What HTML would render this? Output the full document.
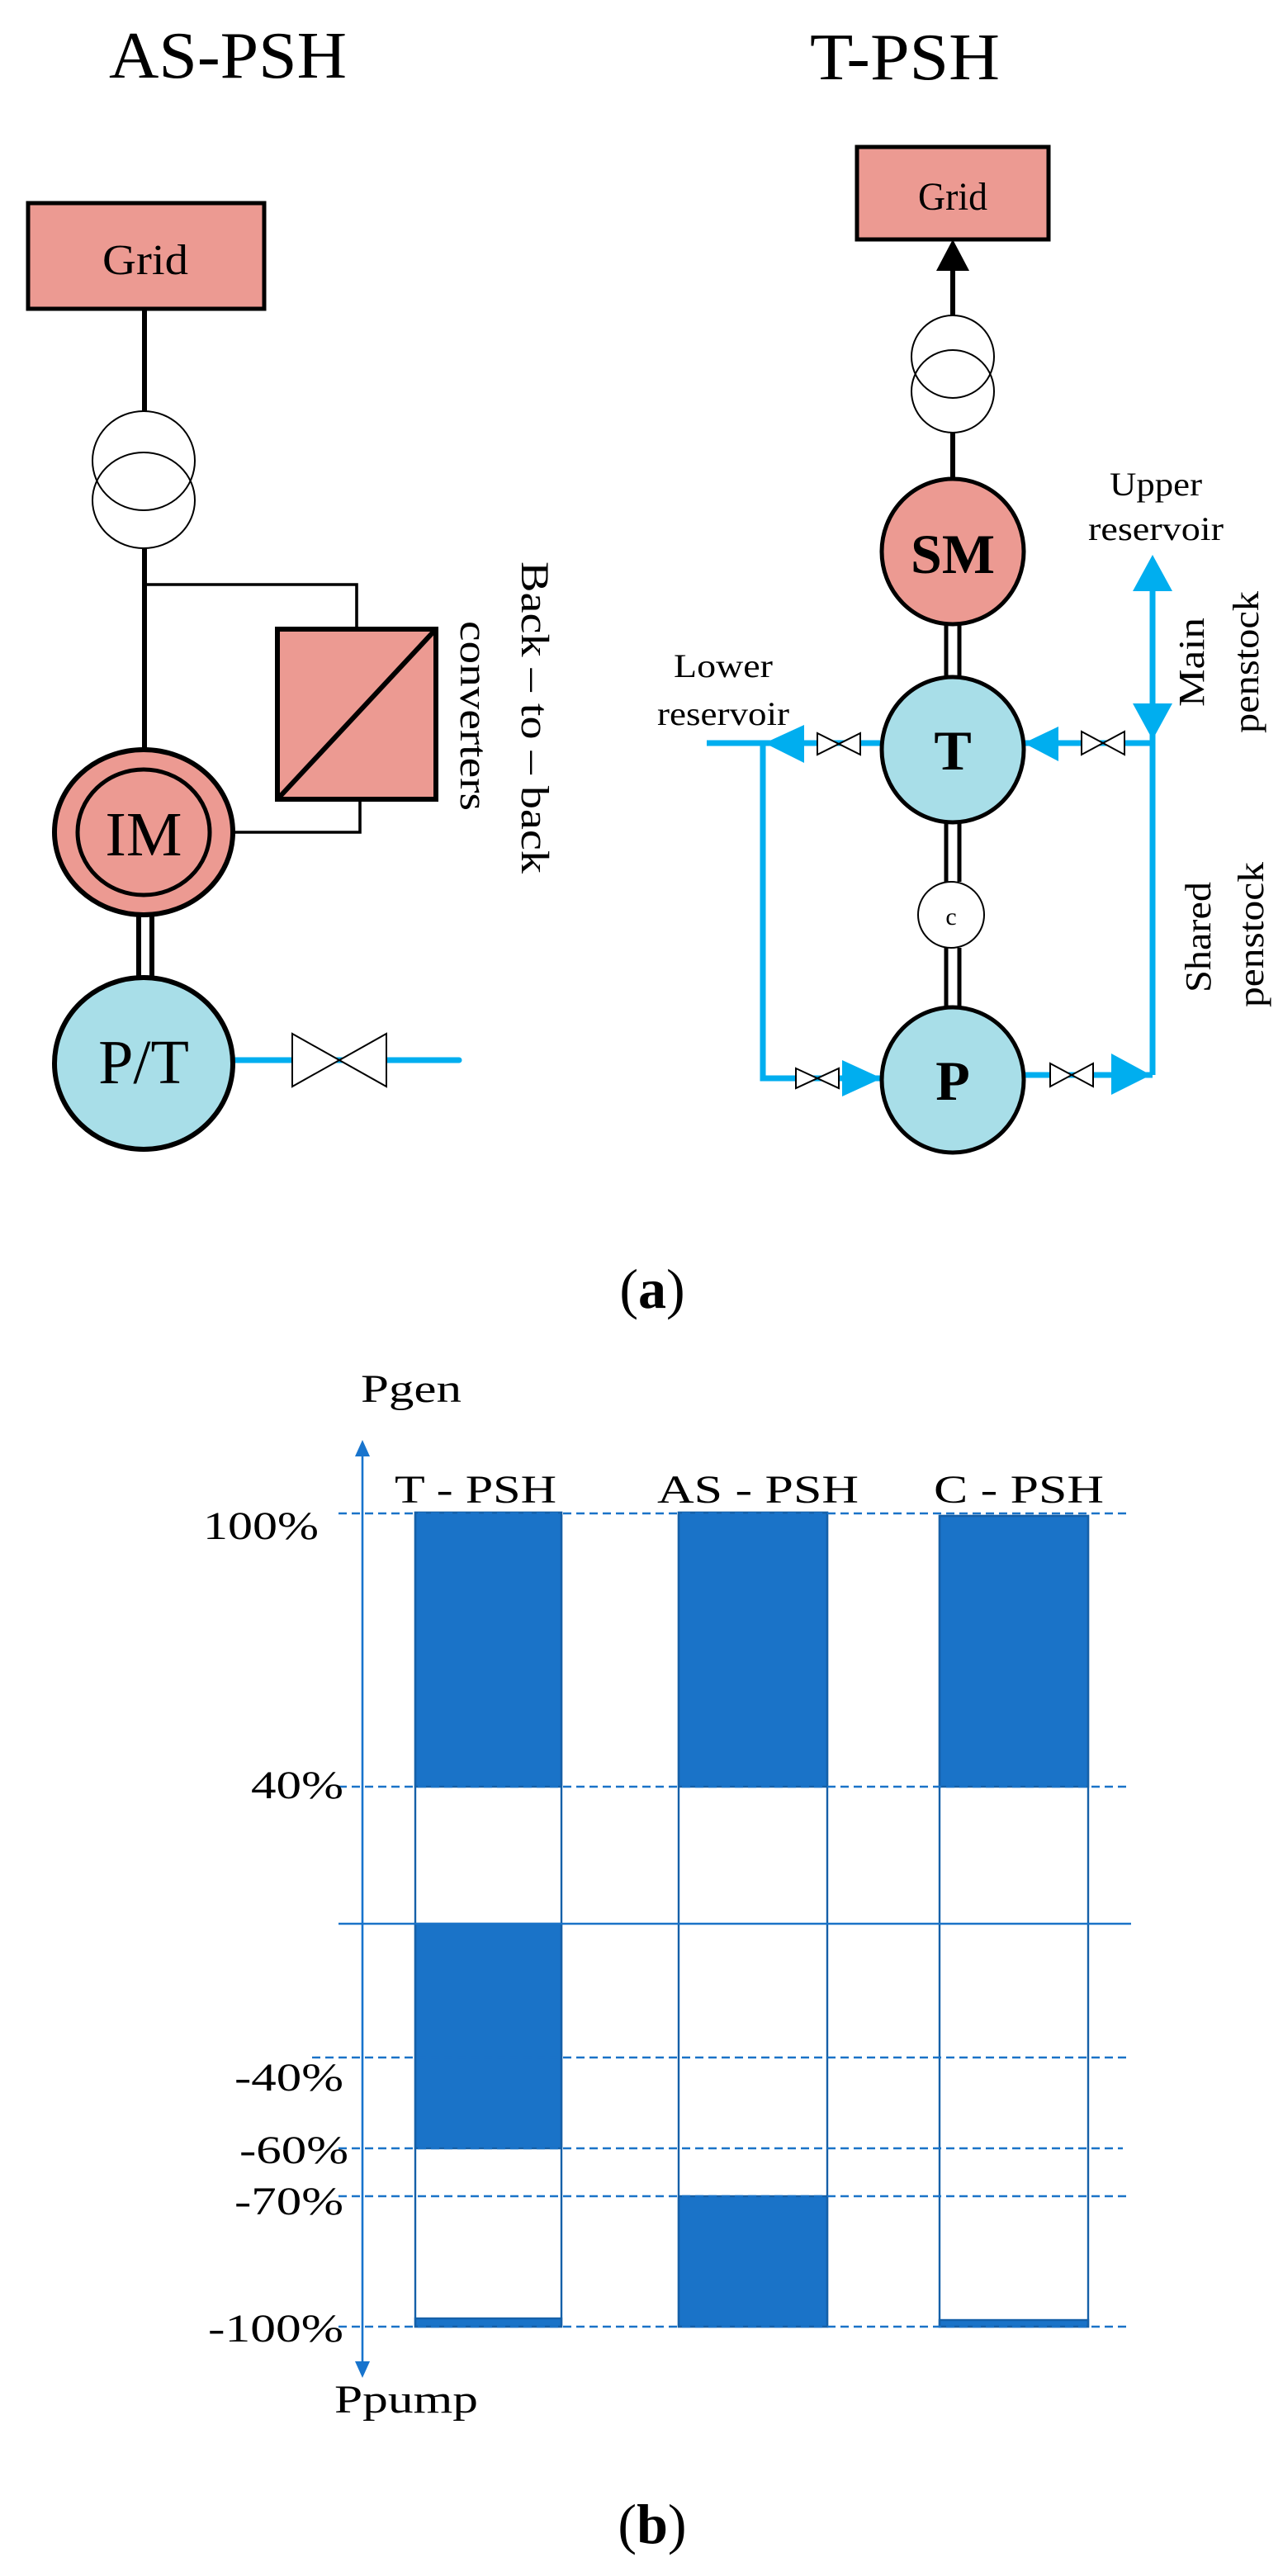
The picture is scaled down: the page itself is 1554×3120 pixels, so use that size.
<!DOCTYPE html>
<html><head><meta charset="utf-8"><style>
html,body{margin:0;padding:0;background:#fff}
svg{display:block}
text{font-family:"Liberation Serif",serif;fill:#000}
</style></head><body>
<svg width="1554" height="3120" viewBox="0 0 777 1560" xmlns="http://www.w3.org/2000/svg">
<!-- LEFT: AS-PSH -->
<text x="138" y="47" font-size="40" text-anchor="middle" textLength="144" lengthAdjust="spacingAndGlyphs">AS-PSH</text>
<rect x="17" y="123" width="143" height="64" fill="#EC9A92" stroke="#000" stroke-width="2.5"/>
<text x="88" y="166" font-size="26" text-anchor="middle" textLength="52" lengthAdjust="spacingAndGlyphs">Grid</text>
<line x1="87.5" y1="187" x2="87.5" y2="249" stroke="#000" stroke-width="3"/>
<ellipse cx="87" cy="279" rx="31" ry="30" fill="none" stroke="#000" stroke-width="1"/>
<ellipse cx="87" cy="303" rx="31" ry="29" fill="none" stroke="#000" stroke-width="1"/>
<line x1="87.5" y1="332" x2="87.5" y2="454" stroke="#000" stroke-width="3"/>
<polyline points="87.5,354 216,354 216,381" fill="none" stroke="#000" stroke-width="1.8"/>
<rect x="168" y="381" width="96" height="103" fill="#EC9A92" stroke="#000" stroke-width="3"/>
<line x1="168" y1="484" x2="264" y2="381" stroke="#000" stroke-width="3"/>
<polyline points="127,504 218,504 218,484" fill="none" stroke="#000" stroke-width="1.8"/>
<ellipse cx="87" cy="504" rx="54" ry="50" fill="#EC9A92" stroke="#000" stroke-width="3"/>
<ellipse cx="87" cy="504" rx="40" ry="38" fill="none" stroke="#000" stroke-width="2.5"/>
<text x="87" y="518" font-size="38" text-anchor="middle">IM</text>
<line x1="84" y1="554" x2="84" y2="592" stroke="#000" stroke-width="3"/>
<line x1="92" y1="554" x2="92" y2="592" stroke="#000" stroke-width="3"/>
<line x1="141" y1="642" x2="278" y2="642" stroke="#00AEEF" stroke-width="3.5" stroke-linecap="round"/>
<ellipse cx="87" cy="644" rx="54" ry="52" fill="#A8DEE8" stroke="#000" stroke-width="3"/>
<text x="87" y="656" font-size="38" text-anchor="middle">P/T</text>
<path d="M177,626 L234,658 L234,626 L177,658 Z" fill="#fff" stroke="#000" stroke-width="1"/>
<text transform="translate(316,340) rotate(90)" font-size="24" textLength="189" lengthAdjust="spacingAndGlyphs">Back – to – back</text>
<text transform="translate(279,376) rotate(90)" font-size="24" textLength="115" lengthAdjust="spacingAndGlyphs">converters</text>

<!-- RIGHT: T-PSH -->
<text x="548" y="48" font-size="40" text-anchor="middle" textLength="115" lengthAdjust="spacingAndGlyphs">T-PSH</text>
<rect x="519" y="89" width="116" height="56" fill="#EC9A92" stroke="#000" stroke-width="2.5"/>
<text x="577" y="127" font-size="24" text-anchor="middle" textLength="42" lengthAdjust="spacingAndGlyphs">Grid</text>
<path d="M567,164 L577,145 L587,164 Z" fill="#000"/>
<line x1="577" y1="164" x2="577" y2="191" stroke="#000" stroke-width="3"/>
<ellipse cx="577" cy="216" rx="25" ry="25" fill="none" stroke="#000" stroke-width="1"/>
<ellipse cx="577" cy="237" rx="25" ry="25" fill="none" stroke="#000" stroke-width="1"/>
<line x1="577" y1="262" x2="577" y2="290" stroke="#000" stroke-width="3"/>
<line x1="573" y1="378" x2="573" y2="410" stroke="#000" stroke-width="2.5"/>
<line x1="581" y1="378" x2="581" y2="410" stroke="#000" stroke-width="2.5"/>
<line x1="573" y1="498" x2="573" y2="534" stroke="#000" stroke-width="2.5"/>
<line x1="581" y1="498" x2="581" y2="534" stroke="#000" stroke-width="2.5"/>
<line x1="573" y1="574" x2="573" y2="610" stroke="#000" stroke-width="2.5"/>
<line x1="581" y1="574" x2="581" y2="610" stroke="#000" stroke-width="2.5"/>
<ellipse cx="577" cy="334" rx="43" ry="44" fill="#EC9A92" stroke="#000" stroke-width="2.5"/>
<text x="577" y="347" font-size="34" font-weight="bold" text-anchor="middle">SM</text>
<g stroke="#00AEEF" stroke-width="3.5" fill="none">
<line x1="428" y1="450" x2="533" y2="450"/>
<polyline points="462,450 462,653 534,653"/>
<line x1="618" y1="450" x2="698" y2="450"/>
<line x1="698" y1="350" x2="698" y2="651"/>
<line x1="618" y1="651" x2="698" y2="651"/>
</g>
<g fill="#00AEEF">
<path d="M463,450 L487,439 L487,462 Z"/>
<path d="M534,653 L510,642 L510,664 Z"/>
<path d="M620,450 L641,440 L641,461 Z"/>
<path d="M697,651 L673,638 L673,663 Z"/>
<path d="M698,336 L686,358 L710,358 Z"/>
<path d="M698,448 L686,426 L710,426 Z"/>
</g>
<g fill="#fff" stroke="#000" stroke-width="1">
<path d="M495,444 L521,457 L521,444 L495,457 Z"/>
<path d="M482,647 L508,659 L508,647 L482,659 Z"/>
<path d="M655,443 L681,457 L681,443 L655,457 Z"/>
<path d="M636,644 L662,658 L662,644 L636,658 Z"/>
</g>
<ellipse cx="577" cy="454" rx="43" ry="44" fill="#A8DEE8" stroke="#000" stroke-width="2.5"/>
<text x="577" y="466" font-size="34" font-weight="bold" text-anchor="middle">T</text>
<ellipse cx="576" cy="554" rx="20" ry="20" fill="#fff" stroke="#000" stroke-width="1"/>
<text x="576" y="560" font-size="15" text-anchor="middle">c</text>
<ellipse cx="577" cy="654" rx="43" ry="44" fill="#A8DEE8" stroke="#000" stroke-width="2.5"/>
<text x="577" y="666" font-size="34" font-weight="bold" text-anchor="middle">P</text>
<text x="438" y="410" font-size="20" text-anchor="middle" textLength="60" lengthAdjust="spacingAndGlyphs">Lower</text>
<text x="438" y="439" font-size="20" text-anchor="middle" textLength="80" lengthAdjust="spacingAndGlyphs">reservoir</text>
<text x="700" y="300" font-size="20" text-anchor="middle" textLength="56" lengthAdjust="spacingAndGlyphs">Upper</text>
<text x="700" y="327" font-size="20" text-anchor="middle" textLength="82" lengthAdjust="spacingAndGlyphs">reservoir</text>
<text transform="translate(729,428) rotate(-90)" font-size="22" textLength="54" lengthAdjust="spacingAndGlyphs">Main</text>
<text transform="translate(762,444) rotate(-90)" font-size="22" textLength="86" lengthAdjust="spacingAndGlyphs">penstock</text>
<text transform="translate(733,601) rotate(-90)" font-size="22" textLength="67" lengthAdjust="spacingAndGlyphs">Shared</text>
<text transform="translate(765,610) rotate(-90)" font-size="22" textLength="88" lengthAdjust="spacingAndGlyphs">penstock</text>

<text x="395" y="792" font-size="34" text-anchor="middle">(<tspan font-weight="bold">a</tspan>)</text>

<!-- CHART -->
<g fill="#1A73C8" stroke="#1560A8" stroke-width="1.2">
<rect x="251.5" y="916" width="88.5" height="166"/>
<rect x="251.5" y="1165" width="88.5" height="136"/>
<rect x="251.5" y="1404" width="88.5" height="5"/>
<rect x="411" y="916" width="90" height="166"/>
<rect x="411" y="1330" width="90" height="79"/>
<rect x="569" y="918" width="90" height="164"/>
<rect x="569" y="1405" width="90" height="4"/>
</g>
<g fill="none" stroke="#1560A8" stroke-width="1.2">
<rect x="251.5" y="916" width="88.5" height="493"/>
<rect x="411" y="916" width="90" height="493"/>
<rect x="569" y="918" width="90" height="491"/>
</g>
<g stroke="#1A73C8" stroke-width="1.2" stroke-dasharray="5,3">
<line x1="205" y1="916.5" x2="685" y2="916.5"/>
<line x1="205" y1="1082" x2="685" y2="1082"/>
<line x1="189" y1="1246" x2="685" y2="1246"/>
<line x1="205" y1="1301" x2="680" y2="1301"/>
<line x1="205" y1="1330" x2="685" y2="1330"/>
<line x1="205" y1="1409" x2="685" y2="1409"/>
</g>
<line x1="205" y1="1165" x2="685" y2="1165" stroke="#1A73C8" stroke-width="1.2"/>
<line x1="219.5" y1="1432" x2="219.5" y2="880" stroke="#1874CD" stroke-width="1.3"/>
<path d="M215,882 L219.5,872 L224,882 Z" fill="#1874CD"/>
<path d="M215,1430 L219.5,1440 L224,1430 Z" fill="#1874CD"/>
<text x="249" y="849" font-size="24" text-anchor="middle" textLength="61" lengthAdjust="spacingAndGlyphs">Pgen</text>
<text x="246" y="1461" font-size="24" text-anchor="middle" textLength="87" lengthAdjust="spacingAndGlyphs">Ppump</text>
<text x="288" y="910" font-size="24" text-anchor="middle" textLength="98" lengthAdjust="spacingAndGlyphs">T - PSH</text>
<text x="459" y="910" font-size="24" text-anchor="middle" textLength="122" lengthAdjust="spacingAndGlyphs">AS - PSH</text>
<text x="617" y="910" font-size="24" text-anchor="middle" textLength="103" lengthAdjust="spacingAndGlyphs">C - PSH</text>
<g font-size="24" text-anchor="end" lengthAdjust="spacingAndGlyphs">
<text x="193" y="932" textLength="70" lengthAdjust="spacingAndGlyphs">100%</text>
<text x="208" y="1089" textLength="56" lengthAdjust="spacingAndGlyphs">40%</text>
<text x="208" y="1266" textLength="66" lengthAdjust="spacingAndGlyphs">-40%</text>
<text x="211" y="1310" textLength="66" lengthAdjust="spacingAndGlyphs">-60%</text>
<text x="208" y="1341" textLength="66" lengthAdjust="spacingAndGlyphs">-70%</text>
<text x="208" y="1418" textLength="82" lengthAdjust="spacingAndGlyphs">-100%</text>
</g>
<text x="395" y="1540" font-size="34" text-anchor="middle">(<tspan font-weight="bold">b</tspan>)</text>
</svg>
</body></html>
